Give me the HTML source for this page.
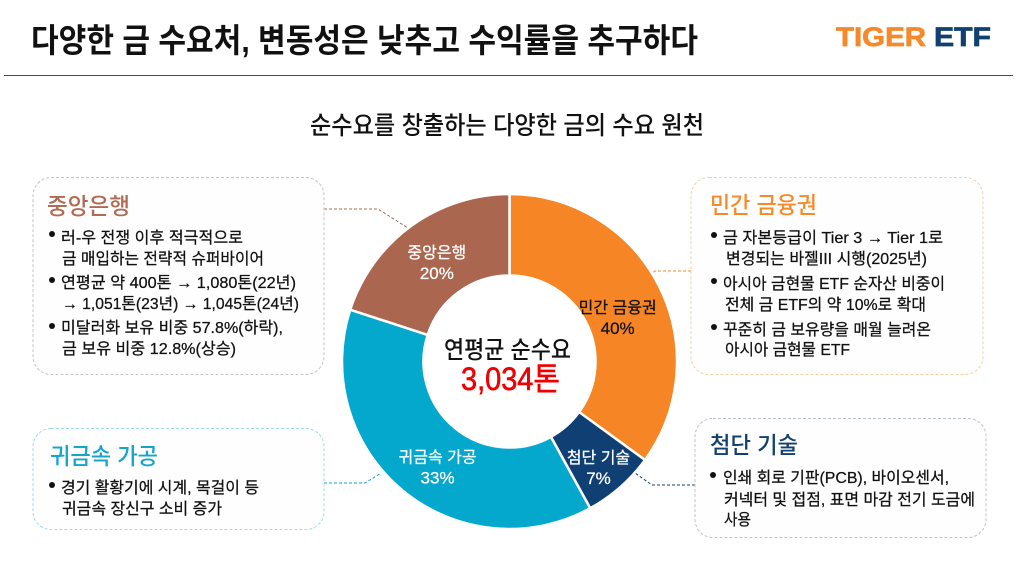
<!DOCTYPE html>
<html lang="ko">
<head>
<meta charset="utf-8">
<title>다양한 금 수요처</title>
<style>
html,body{margin:0;padding:0;background:#fff;width:1015px;height:566px;overflow:hidden}
svg{display:block}
text{font-family:"Liberation Sans","Noto Sans CJK KR",sans-serif;fill:#111}
.b{font-size:16px;stroke:#111;stroke-width:.25px}
.h{font-size:23px;font-weight:500}
.box{fill:#fffefe;stroke-width:1;stroke-dasharray:3 2}
.conn{fill:none;stroke-width:1;stroke-dasharray:3 2}
</style>
</head>
<body>
<svg id="page" width="1015" height="566" viewBox="0 0 1015 566" xmlns="http://www.w3.org/2000/svg">
<text x="31" y="52" font-size="33" font-weight="700" textLength="667" lengthAdjust="spacingAndGlyphs" style="fill:#111">다양한 금 수요처, 변동성은 낮추고 수익률을 추구하다</text>
<text x="836" y="46" font-size="27" font-weight="700" textLength="90" lengthAdjust="spacingAndGlyphs" style="fill:#f58a2c;stroke:#f58a2c;stroke-width:.7px">TIGER</text>
<text x="934" y="46" font-size="27" font-weight="700" textLength="57" lengthAdjust="spacingAndGlyphs" style="fill:#12406f;stroke:#12406f;stroke-width:.7px">ETF</text>
<rect x="4" y="75" width="1009" height="1" fill="#3f4f55"/>
<text x="310" y="134" font-size="25" font-weight="500" textLength="394" lengthAdjust="spacingAndGlyphs">순수요를 창출하는 다양한 금의 수요 원천</text>

<g id="connectors">
<polyline class="conn" stroke="#b06a52" points="324,209 378,209 408,228"/>
<polyline class="conn" stroke="#f58a2c" points="691,271 655,271 647,277"/>
<polyline class="conn" stroke="#14a5c9" points="324,483 365,483 381,473"/>
<polyline class="conn" stroke="#12406f" points="695,485 652,485 635,473"/>
</g>

<g id="donut"></g>

<g>
<text x="444" y="358" font-size="24" font-weight="500" textLength="127" lengthAdjust="spacingAndGlyphs">연평균 순수요</text>
<text x="461" y="390" font-size="32" font-weight="400" textLength="99" lengthAdjust="spacingAndGlyphs" style="fill:#f00000;stroke:#f00000;stroke-width:.6px">3,034톤</text>
</g>

<g>
<rect class="box" stroke="#c4c4c4" x="33" y="177.5" width="291" height="197" rx="18"/>
<text class="h" x="47" y="214" textLength="83" lengthAdjust="spacingAndGlyphs" style="fill:#b06a52">중앙은행</text>
<circle cx="52" cy="234" r="3" fill="#111"/>
<text class="b" x="61" y="243" textLength="182" lengthAdjust="spacingAndGlyphs">러-우 전쟁 이후 적극적으로</text>
<text class="b" x="62" y="264" textLength="202" lengthAdjust="spacingAndGlyphs">금 매입하는 전략적 슈퍼바이어</text>
<circle cx="52" cy="280" r="3" fill="#111"/>
<text class="b" x="61" y="288" textLength="235" lengthAdjust="spacingAndGlyphs">연평균 약 400톤 → 1,080톤(22년)</text>
<text class="b" x="62" y="309" textLength="237" lengthAdjust="spacingAndGlyphs">→ 1,051톤(23년) → 1,045톤(24년)</text>
<circle cx="52" cy="326" r="3" fill="#111"/>
<text class="b" x="61" y="333" textLength="222" lengthAdjust="spacingAndGlyphs">미달러화 보유 비중 57.8%(하락),</text>
<text class="b" x="62" y="354" textLength="174" lengthAdjust="spacingAndGlyphs">금 보유 비중 12.8%(상승)</text>
</g>

<g>
<rect class="box" stroke="#9fdbe8" x="33" y="428.5" width="291" height="101" rx="18"/>
<text class="h" x="50" y="464" textLength="108" lengthAdjust="spacingAndGlyphs" style="fill:#14a5c9">귀금속 가공</text>
<circle cx="52" cy="485" r="3" fill="#111"/>
<text class="b" x="61" y="493" textLength="198" lengthAdjust="spacingAndGlyphs">경기 활황기에 시계, 목걸이 등</text>
<text class="b" x="62" y="514" textLength="160" lengthAdjust="spacingAndGlyphs">귀금속 장신구 소비 증가</text>
</g>

<g>
<rect class="box" stroke="#f7cfa6" x="691" y="177.5" width="292" height="197" rx="18"/>
<text class="h" x="710" y="213" textLength="107" lengthAdjust="spacingAndGlyphs" style="fill:#f58a2c">민간 금융권</text>
<circle cx="714" cy="235" r="3" fill="#111"/>
<text class="b" x="723" y="243" textLength="220" lengthAdjust="spacingAndGlyphs">금 자본등급이 Tier 3 → Tier 1로</text>
<text class="b" x="726" y="264" textLength="201" lengthAdjust="spacingAndGlyphs">변경되는 바젤III 시행(2025년)</text>
<circle cx="714" cy="281" r="3" fill="#111"/>
<text class="b" x="723" y="289" textLength="222" lengthAdjust="spacingAndGlyphs">아시아 금현물 ETF 순자산 비중이</text>
<text class="b" x="725" y="310" textLength="201" lengthAdjust="spacingAndGlyphs">전체 금 ETF의 약 10%로 확대</text>
<circle cx="714" cy="327" r="3" fill="#111"/>
<text class="b" x="723" y="335" textLength="208" lengthAdjust="spacingAndGlyphs">꾸준히 금 보유량을 매월 늘려온</text>
<text class="b" x="725" y="355" textLength="125" lengthAdjust="spacingAndGlyphs">아시아 금현물 ETF</text>
</g>

<g>
<rect class="box" stroke="#bcc3cc" x="695" y="418.5" width="291" height="119" rx="18"/>
<text class="h" x="710" y="453" textLength="88" lengthAdjust="spacingAndGlyphs" style="fill:#12406f">첨단 기술</text>
<circle cx="713" cy="475" r="3" fill="#111"/>
<text class="b" x="723" y="483" textLength="226" lengthAdjust="spacingAndGlyphs">인쇄 회로 기판(PCB), 바이오센서,</text>
<text class="b" x="724" y="505" textLength="251" lengthAdjust="spacingAndGlyphs">커넥터 및 접점, 표면 마감 전기 도금에</text>
<text class="b" x="724" y="525" textLength="27" lengthAdjust="spacingAndGlyphs">사용</text>
</g>
</svg>

<script>
const categories = ['민간 금융권', '첨단 기술', '귀금속 가공', '중앙은행'];
// Printed percentages, as labelled on the slide.
const printedPercents = ['40%', '7%', '33%', '20%'];
const sliceShares = [35, 7, 38, 20];

function drawDonut() {
  const NS = 'http://www.w3.org/2000/svg';
  const root = document.getElementById('donut');
  const cx = 509.5, cy = 361.5, outer = 167.5, inner = 86;
  const fills = ['#f58525', '#0f3f73', '#04a8cc', '#ab6650'];
  const labelFills = ['#111', '#fff', '#fff', '#fff'];
  const nudges = [[-5, 14], [5, 11], [9, 8], [2, 4]];
  const total = sliceShares.reduce(function (a, b) { return a + b; }, 0);
  const angleOf = function (share) { return share / total * 2 * Math.PI; };
  const px = function (r, a) { return cx + r * Math.sin(a); };
  const py = function (r, a) { return cy - r * Math.cos(a); };
  let running = 0;
  sliceShares.forEach(function (share, i) {
    const a0 = angleOf(running);
    const a1 = angleOf(running + share);
    const large = a1 - a0 > Math.PI ? 1 : 0;
    const path = document.createElementNS(NS, 'path');
    path.setAttribute('d',
      'M' + px(outer, a0) + ' ' + py(outer, a0) +
      'A' + outer + ' ' + outer + ' 0 ' + large + ' 1 ' + px(outer, a1) + ' ' + py(outer, a1) +
      'L' + px(inner, a1) + ' ' + py(inner, a1) +
      'A' + inner + ' ' + inner + ' 0 ' + large + ' 0 ' + px(inner, a0) + ' ' + py(inner, a0) + 'Z');
    path.setAttribute('fill', fills[i]);
    path.setAttribute('stroke', '#fff');
    path.setAttribute('stroke-width', '2.5');
    
    
    root.appendChild(path);

    const mid = (a0 + a1) / 2;
    const lx = px(127, mid) + nudges[i][0];
    const ly = py(127, mid) + nudges[i][1];
    const name = document.createElementNS(NS, 'text');
    name.textContent = categories[i];
    name.setAttribute('x', lx);
    name.setAttribute('y', ly - 5);
    name.setAttribute('text-anchor', 'middle');
    name.setAttribute('font-size', '16');
    name.setAttribute('style', 'fill:' + labelFills[i] + ';stroke:' + labelFills[i] + ';stroke-width:.25px');
    
    
    root.appendChild(name);

    const pct = document.createElementNS(NS, 'text');
    pct.textContent = printedPercents[i];
    pct.setAttribute('x', lx);
    pct.setAttribute('y', ly + 16);
    pct.setAttribute('text-anchor', 'middle');
    pct.setAttribute('font-size', '17');
    pct.setAttribute('style', 'fill:' + labelFills[i] + ';stroke:' + labelFills[i] + ';stroke-width:.25px');
    
    
    root.appendChild(pct);

    running += share;
  });
}
drawDonut();
</script>
</body>
</html>
